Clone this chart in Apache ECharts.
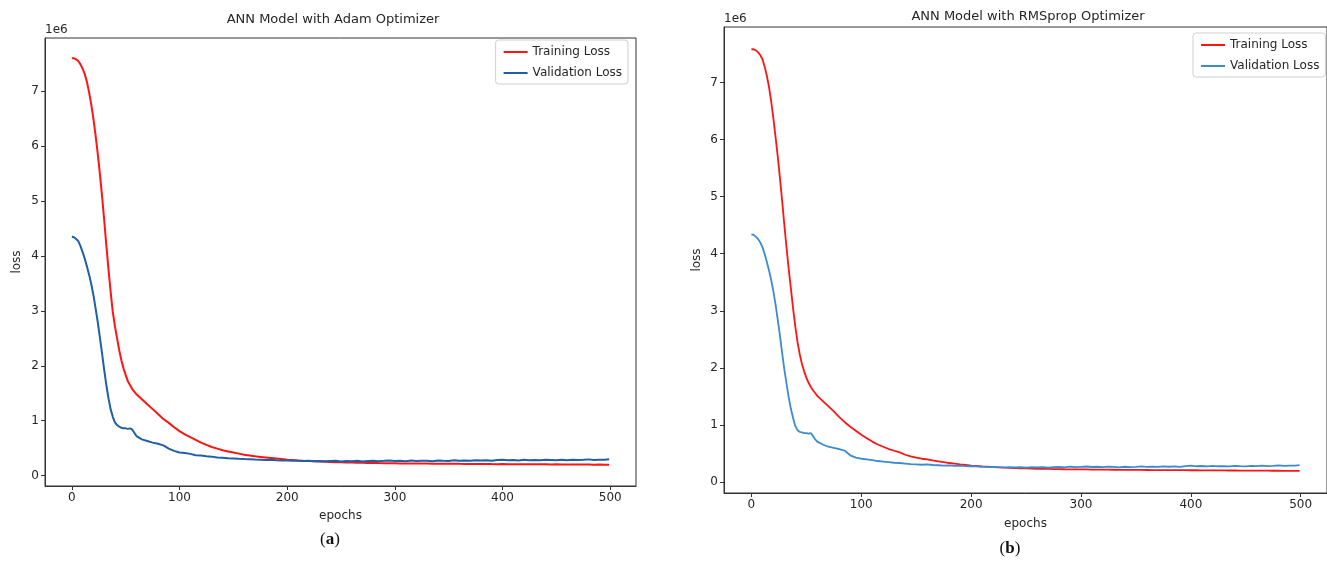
<!DOCTYPE html>
<html><head><meta charset="utf-8">
<script src="https://cdn.jsdelivr.net/npm/echarts@6/dist/echarts.min.js"></script>
<style>html,body{margin:0;padding:0;background:#fff}#c{width:1327px;height:576px}</style>
</head><body><div id="c"></div>
<script>
// ---- data (loss in units of 1e6) ----
const EPOCHS = [0,2,4,6,8,10,12,14,16,18,20,22,24,26,28,30,32,34,36,38,40,42,44,46,48,50,52,54,56,58,60,
 65,70,75,80,85,90,95,100,105,110,115,120,125,130,135,140,145,150,155,160,165,170,175,180,185,190,195,200,205,210,
 215,220,225,230,235,240,245,250,255,260,265,270,275,280,285,290,295,300,305,310,315,320,325,330,335,340,345,350,355,360,
 365,370,375,380,385,390,395,400,405,410,415,420,425,430,435,440,445,450,455,460,465,470,475,480,485,490,495,499];

const ADAM_TRAIN = [7.60,7.60,7.58,7.55,7.49,7.41,7.31,7.17,6.98,6.76,6.50,6.20,5.87,5.50,5.10,4.66,4.20,3.76,3.35,2.98,2.72,2.50,2.28,2.10,1.95,1.83,1.72,1.65,1.58,1.53,1.48,
 1.39,1.30,1.21,1.12,1.03,0.96,0.88,0.81,0.75,0.70,
 0.65,0.60,0.56,0.52,0.49,0.46,0.44,0.42,0.40,0.38,
 0.365,0.35,0.34,0.33,0.32,0.31,0.30,0.29,0.283,0.276,
 0.27,0.265,0.26,0.255,0.251,0.247,0.244,0.241,0.238,0.236,
 0.234,0.232,0.23,0.229,0.227,0.226,0.224,0.223,0.222,0.222,
 0.220,0.219,0.219,0.218,0.216,0.217,0.215,0.214,0.215,0.213,
 0.212,0.212,0.211,0.210,0.211,0.209,0.208,0.209,0.207,0.207,
 0.206,0.206,0.205,0.206,0.204,0.204,0.203,0.204,0.202,0.202,
 0.201,0.202,0.200,0.200,0.199,0.200,0.198,0.198];

const ADAM_VAL = [4.35,4.34,4.31,4.27,4.18,4.07,3.95,3.81,3.66,3.49,3.29,3.05,2.80,2.52,2.23,1.93,1.65,1.41,1.21,1.07,0.97,0.92,0.89,0.87,0.86,0.86,0.85,0.86,0.84,0.78,0.72,
 0.66,0.63,0.60,0.58,0.55,0.49,0.45,0.42,0.41,0.395,
 0.37,0.365,0.35,0.345,0.33,0.325,0.315,0.312,0.305,0.30,
 0.296,0.292,0.29,0.285,0.287,0.28,0.276,0.275,0.27,0.272,
 0.266,0.268,0.262,0.266,0.26,0.264,0.268,0.258,0.265,0.262,
 0.27,0.258,0.266,0.272,0.262,0.268,0.275,0.265,0.27,0.262,
 0.274,0.266,0.272,0.268,0.262,0.275,0.27,0.266,0.278,0.27,
 0.275,0.268,0.28,0.273,0.279,0.27,0.282,0.29,0.28,0.285,
 0.276,0.287,0.28,0.284,0.277,0.286,0.282,0.278,0.288,0.281,
 0.29,0.283,0.287,0.295,0.285,0.29,0.288,0.298];

const RMS_TRAIN = [7.58,7.58,7.56,7.53,7.48,7.41,7.28,7.12,6.92,6.67,6.37,6.04,5.70,5.32,4.92,4.50,4.10,3.72,3.38,3.03,2.72,2.45,2.24,2.07,1.94,1.83,1.74,1.67,1.61,1.56,1.51,
 1.42,1.33,1.24,1.14,1.05,0.97,0.90,0.83,0.77,0.71,
 0.66,0.62,0.58,0.55,0.52,0.48,0.45,0.43,0.41,0.40,
 0.38,0.365,0.35,0.335,0.325,0.31,0.30,0.29,0.283,0.276,
 0.27,0.264,0.259,0.254,0.25,0.246,0.243,0.24,0.237,0.235,
 0.233,0.231,0.229,0.228,0.226,0.225,0.223,0.222,0.222,0.220,
 0.219,0.219,0.218,0.217,0.216,0.216,0.215,0.214,0.214,0.213,
 0.212,0.212,0.211,0.210,0.210,0.209,0.209,0.208,0.208,0.207,
 0.206,0.206,0.205,0.205,0.204,0.204,0.203,0.203,0.202,0.202,
 0.201,0.201,0.200,0.200,0.199,0.199,0.198,0.198];

const RMS_VAL = [4.34,4.33,4.30,4.26,4.20,4.12,4.00,3.86,3.71,3.54,3.34,3.11,2.84,2.56,2.26,1.97,1.72,1.48,1.28,1.12,0.98,0.91,0.88,0.87,0.86,0.86,0.85,0.86,0.81,0.75,0.71,
 0.66,0.62,0.60,0.58,0.55,0.47,0.43,0.41,0.40,0.385,
 0.37,0.36,0.35,0.34,0.335,0.325,0.315,0.31,0.305,0.31,
 0.30,0.296,0.29,0.292,0.285,0.288,0.28,0.278,0.275,0.27,
 0.268,0.265,0.262,0.26,0.264,0.258,0.262,0.256,0.262,0.258,
 0.264,0.256,0.262,0.266,0.258,0.27,0.262,0.268,0.274,0.265,
 0.27,0.262,0.272,0.266,0.26,0.27,0.264,0.268,0.275,0.266,
 0.272,0.268,0.278,0.27,0.275,0.268,0.28,0.288,0.278,0.283,
 0.275,0.284,0.278,0.282,0.276,0.285,0.28,0.276,0.286,0.28,
 0.288,0.282,0.286,0.294,0.284,0.29,0.288,0.298];

const X_TICKS = [0,100,200,300,400,500];
const Y_TICKS = [0,1,2,3,4,5,6,7];
const TITLES = ['ANN Model with Adam Optimizer','ANN Model with RMSprop Optimizer'];
const SERIES_NAMES = ['Training Loss','Validation Loss'];
const PANEL_LABELS = ['a','b'];
const X_NAME = 'epochs', Y_NAME = 'loss', SCALE_TEXT = '1e6';

// ---- drawing ----
const FONT = 'DejaVu Sans';
const TXT = '#262626';
const SPINE = '#333333';
const RED = '#ff1414';
const BLUE = ['#1f5fa6', '#3b8bd0'];
const FS = 12;
const pair = ys => EPOCHS.map((e, i) => [e, ys[i]]);

const grids = [
  {left: 45, top: 38, width: 591, height: 448},
  {left: 724, top: 27, width: 609, height: 466}
];

function xAxis(i, gap) {
  return {
    type: 'value', gridIndex: i, min: -24.95, max: 523.95,
    name: X_NAME, nameLocation: 'middle', nameGap: gap,
    nameTextStyle: {fontFamily: FONT, fontSize: FS, color: TXT},
    axisLine: {show: true, onZero: false, lineStyle: {color: SPINE, width: 1}},
    axisTick: {show: true, customValues: X_TICKS, length: 4, lineStyle: {color: SPINE}},
    axisLabel: {customValues: X_TICKS, fontFamily: FONT, fontSize: FS, color: TXT, margin: 6},
    splitLine: {show: false}
  };
}
function yAxis(i, gap) {
  return {
    type: 'value', gridIndex: i, min: -0.19, max: 7.97,
    name: Y_NAME, nameLocation: 'middle', nameGap: gap, nameRotate: 90,
    nameTextStyle: {fontFamily: FONT, fontSize: FS, color: TXT},
    axisLine: {show: true, onZero: false, lineStyle: {color: SPINE, width: 1}},
    axisTick: {show: true, customValues: Y_TICKS, length: 4, lineStyle: {color: SPINE}},
    axisLabel: {customValues: Y_TICKS, fontFamily: FONT, fontSize: FS, color: TXT, margin: 6},
    splitLine: {show: false}
  };
}
function line(name, data, color, gi, w) {
  return {
    type: 'line', name, data: pair(data), xAxisIndex: gi, yAxisIndex: gi,
    symbol: 'none', smooth: false, color,
    lineStyle: {color, width: w}, animation: false, clip: true
  };
}
const legendBase = {
  orient: 'vertical', backgroundColor: '#fff', borderColor: '#cfcfcf', borderWidth: 1,
  borderRadius: 3, padding: [6, 6, 5, 8], itemGap: 9, itemWidth: 24, itemHeight: 2,
  icon: 'rect',
  textStyle: {fontFamily: FONT, fontSize: FS, color: TXT}
};

const chart = echarts.init(document.getElementById('c'), null, {renderer: 'canvas'});
chart.setOption({
  animation: false,
  backgroundColor: '#fff',
  grid: grids.map(g => Object.assign({show: true, borderColor: SPINE, borderWidth: 1, backgroundColor: 'transparent'}, g)),
  xAxis: [xAxis(0, 24), xAxis(1, 25)],
  yAxis: [yAxis(0, 22), yAxis(1, 21)],
  legend: [
    Object.assign({}, legendBase, {right: 699, top: 40, data: SERIES_NAMES.slice()}),
    Object.assign({}, legendBase, {left: 1193, top: 33,
      data: [{name: SERIES_NAMES[0]}, {name: SERIES_NAMES[1], itemStyle: {color: BLUE[1]}, lineStyle: {color: BLUE[1]}}]})
  ],
  series: [
    line(SERIES_NAMES[0], ADAM_TRAIN, RED, 0, 2),
    line(SERIES_NAMES[1], ADAM_VAL, BLUE[0], 0, 2),
    line(SERIES_NAMES[0], RMS_TRAIN, RED, 1, 1.8),
    line(SERIES_NAMES[1], RMS_VAL, BLUE[1], 1, 1.8)
  ],
  graphic: [
    {type: 'text', x: 333, y: 20, style: {text: TITLES[0], font: '13px "DejaVu Sans"', fill: TXT, align: 'center', verticalAlign: 'middle'}},
    {type: 'text', x: 1028, y: 17, style: {text: TITLES[1], font: '13px "DejaVu Sans"', fill: TXT, align: 'center', verticalAlign: 'middle'}},
    {type: 'text', x: 45, y: 30, style: {text: SCALE_TEXT, font: '12px "DejaVu Sans"', fill: TXT, align: 'left', verticalAlign: 'middle'}},
    {type: 'text', x: 724, y: 19, style: {text: SCALE_TEXT, font: '12px "DejaVu Sans"', fill: TXT, align: 'left', verticalAlign: 'middle'}},
    {type: 'text', x: 330, y: 540, style: {text: '{p|(}{b|' + PANEL_LABELS[0] + '}{p|)}', align: 'center', verticalAlign: 'middle',
      rich: {p: {font: '17px "Liberation Serif"', fill: '#111'}, b: {font: 'bold 17px "Liberation Serif"', fill: '#111'}}}},
    {type: 'text', x: 1010, y: 549, style: {text: '{p|(}{b|' + PANEL_LABELS[1] + '}{p|)}', align: 'center', verticalAlign: 'middle',
      rich: {p: {font: '17px "Liberation Serif"', fill: '#111'}, b: {font: 'bold 17px "Liberation Serif"', fill: '#111'}}}}
  ]
});
</script>
</body></html>
